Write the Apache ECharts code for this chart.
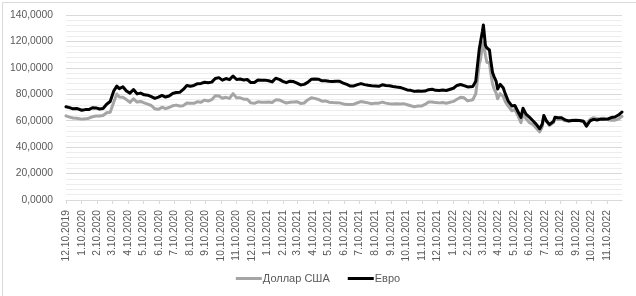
<!DOCTYPE html>
<html>
<head>
<meta charset="utf-8">
<script src="https://cdn.jsdelivr.net/npm/echarts@6/dist/echarts.min.js"></script>
<style>
html,body{margin:0;padding:0;background:#fff;}
#c{width:636px;height:296px;}
</style>
</head>
<body>
<div id="c"></div>
<script>
var seriesNames = ['Доллар США', 'Евро'];
var tickLabels = ['12.10.2019','1.10.2020','2.10.2020','3.10.2020','4.10.2020','5.10.2020','6.10.2020','7.10.2020','8.10.2020','9.10.2020','10.10.2020','11.10.2020','12.10.2020','1.10.2021','2.10.2021','3.10.2021','4.10.2021','5.10.2021','6.10.2021','7.10.2021','8.10.2021','9.10.2021','10.10.2021','11.10.2021','12.10.2021','1.10.2022','2.10.2022','3.10.2022','4.10.2022','5.10.2022','6.10.2022','7.10.2022','8.10.2022','9.10.2022','10.10.2022','11.10.2022'];
var yTicks = [0, 20, 40, 60, 80, 100, 120, 140];

var dates = [
'2019-12-10','2019-12-17','2019-12-24','2019-12-31','2020-01-10','2020-01-17','2020-01-24','2020-01-31',
'2020-02-07','2020-02-14','2020-02-21','2020-02-28','2020-03-06','2020-03-13','2020-03-19','2020-03-24',
'2020-03-31','2020-04-07','2020-04-14','2020-04-21','2020-04-28','2020-05-05','2020-05-12','2020-05-19',
'2020-05-26','2020-06-02','2020-06-09','2020-06-16','2020-06-23','2020-06-30','2020-07-07','2020-07-14',
'2020-07-21','2020-07-28','2020-08-04','2020-08-11','2020-08-18','2020-08-25','2020-09-01','2020-09-08',
'2020-09-15','2020-09-22','2020-09-29','2020-10-06','2020-10-13','2020-10-20','2020-10-27','2020-11-03',
'2020-11-10','2020-11-17','2020-11-24','2020-12-01','2020-12-08','2020-12-15','2020-12-22','2020-12-29',
'2021-01-05','2021-01-12','2021-01-19','2021-01-26','2021-02-02','2021-02-09','2021-02-16','2021-02-23',
'2021-03-02','2021-03-09','2021-03-16','2021-03-23','2021-03-30','2021-04-06','2021-04-13','2021-04-20',
'2021-04-27','2021-05-04','2021-05-11','2021-05-18','2021-05-25','2021-06-01','2021-06-08','2021-06-15',
'2021-06-22','2021-06-29','2021-07-06','2021-07-13','2021-07-20','2021-07-27','2021-08-03','2021-08-10',
'2021-08-17','2021-08-24','2021-08-31','2021-09-07','2021-09-14','2021-09-21','2021-09-28','2021-10-05',
'2021-10-12','2021-10-19','2021-10-26','2021-11-02','2021-11-09','2021-11-16','2021-11-23','2021-11-30',
'2021-12-07','2021-12-14','2021-12-21','2021-12-28','2022-01-11','2022-01-18','2022-01-25','2022-02-01',
'2022-02-08','2022-02-18','2022-02-24','2022-02-27','2022-03-03','2022-03-05','2022-03-09','2022-03-11',
'2022-03-15','2022-03-18','2022-03-23','2022-03-25','2022-03-29','2022-04-01','2022-04-05','2022-04-08',
'2022-04-13','2022-04-19','2022-04-23','2022-04-29','2022-05-06','2022-05-12','2022-05-18','2022-05-24',
'2022-05-28','2022-06-03','2022-06-10','2022-06-17','2022-06-22','2022-06-30','2022-07-05','2022-07-08',
'2022-07-13','2022-07-19','2022-07-22','2022-07-27','2022-07-30','2022-08-05','2022-08-12','2022-08-19',
'2022-08-26','2022-09-02','2022-09-09','2022-09-16','2022-09-24','2022-09-30','2022-10-07','2022-10-14',
'2022-10-21','2022-10-28','2022-11-03','2022-11-11','2022-11-18','2022-11-25','2022-12-02','2022-12-07',
'2022-12-09'];

var usd = [
63.7,62.7,62.1,61.9,61.2,61.4,61.9,63.0,
63.5,63.5,64.0,66.0,66.4,73.9,80.2,78.0,
77.7,76.0,73.9,76.6,74.1,74.6,73.5,72.5,
71.5,69.0,68.6,70.2,69.1,70.0,71.3,71.8,
71.2,71.4,73.4,73.2,73.2,74.4,73.9,75.6,
74.9,75.9,78.9,78.7,77.0,77.7,76.9,80.5,
77.3,77.3,76.3,76.3,73.5,73.2,74.3,73.9,
73.9,74.1,73.8,75.8,75.7,74.4,73.4,73.9,
74.2,74.4,73.1,73.4,75.7,77.3,76.9,76.1,
74.8,75.0,74.0,73.7,73.6,73.5,72.7,72.3,
72.3,72.5,73.6,74.5,74.0,73.5,72.9,73.3,
73.3,74.1,73.3,72.9,72.7,72.8,72.7,72.9,
72.1,71.3,70.6,71.2,71.1,72.3,74.1,74.2,
73.7,73.5,73.8,73.2,74.6,76.2,77.7,77.3,
75.0,75.8,80.4,90.0,103.5,105.8,116.3,119.5,
109.5,104.1,104.0,97.3,88.0,84.1,81.0,76.6,
80.5,78.5,74.5,71.0,67.5,68.6,63.9,58.5,
65.4,61.5,58.5,57.0,54.8,51.5,55.5,62.9,
59.6,56.3,56.9,58.6,61.3,61.0,61.0,59.9,
59.9,60.4,60.2,60.2,59.6,57.4,61.0,62.3,
61.5,61.6,61.9,60.8,60.3,60.4,61.2,62.9,
63.3];

var eur = [
70.6,69.9,69.0,69.3,67.9,68.4,68.4,69.8,
69.7,68.9,69.3,72.5,74.5,82.5,86.2,84.3,
85.7,82.5,80.9,83.6,80.3,80.9,79.6,79.3,
78.2,76.9,77.8,79.1,77.9,78.7,80.6,81.3,
81.5,83.7,86.7,86.1,86.7,88.0,88.2,89.1,
88.7,89.2,92.0,92.6,90.7,91.9,91.1,93.8,
91.2,91.6,90.8,91.2,88.9,88.9,90.8,90.7,
90.7,90.2,89.4,92.1,91.3,89.8,88.8,89.9,
89.6,88.4,87.1,87.5,89.0,91.3,91.6,91.4,
90.2,90.3,89.9,89.6,89.9,89.8,88.5,87.5,
86.2,86.3,87.3,88.1,87.3,86.8,86.4,86.2,
86.0,87.2,86.6,86.5,85.9,85.5,85.2,84.3,
83.3,83.0,82.2,82.5,82.3,82.4,83.5,83.8,
83.0,82.9,83.2,82.9,84.6,86.7,87.4,86.6,
85.6,85.8,89.9,100.5,114.5,116.0,127.5,132.5,
117.0,115.0,113.5,107.0,96.5,93.4,90.0,84.0,
87.5,85.0,80.5,74.8,71.2,71.5,67.0,62.5,
69.4,65.0,62.5,59.8,57.8,53.9,57.5,64.0,
60.0,57.2,57.8,59.4,62.7,62.3,62.2,60.6,
59.8,60.1,60.3,60.2,59.6,55.9,59.8,61.0,
60.5,61.2,61.2,61.3,62.4,62.8,64.3,65.9,
66.6];

var DAY = 86400000;
var T0 = Date.UTC(2019, 11, 10);
function isoDay(s) {
  var p = s.split('-');
  return (Date.UTC(+p[0], +p[1] - 1, +p[2]) - T0) / DAY;
}
function labelDay(s) {
  var p = s.split('.');
  return (Date.UTC(+p[2], +p[0] - 1, +p[1]) - T0) / DAY;
}
var tickDays = tickLabels.map(labelDay);
var xs = dates.map(isoDay);
var usdData = xs.map(function (x, i) { return [x, usd[i]]; });
var eurData = xs.map(function (x, i) { return [x, eur[i]]; });

var FONT = 'Liberation Sans';
var chart = echarts.init(document.getElementById('c'), null, {renderer: 'canvas'});
chart.setOption({
  animation: false,
  backgroundColor: '#ffffff',
  textStyle: {fontFamily: FONT},
  graphic: [{
    type: 'rect', left: 0, top: 0, silent: true, z: 100,
    shape: {x: 0.5, y: 0.5, width: 635, height: 295},
    style: {fill: 'none', stroke: '#d9d9d9', lineWidth: 1}
  }],
  grid: {left: 66, right: 14, top: 15, bottom: 96, containLabel: false},
  legend: {
    bottom: 7, left: 'center',
    itemWidth: 26, itemHeight: 3, itemGap: 18,
    icon: 'rect',
    textStyle: {color: '#595959', fontSize: 11, fontFamily: FONT, padding: [0, 0, 0, -4]},
    data: seriesNames
  },
  xAxis: {
    type: 'value',
    min: 0,
    max: xs[xs.length - 1],
    splitLine: {show: false},
    axisLine: {show: true, lineStyle: {color: '#d9d9d9', width: 1}},
    axisTick: {show: true, customValues: tickDays, length: 4, lineStyle: {color: '#d9d9d9'}},
    axisLabel: {
      customValues: tickDays,
      rotate: 90,
      margin: 10,
      color: '#595959',
      fontSize: 10.3,
      fontFamily: FONT,
      formatter: function (v) {
        var i = tickDays.indexOf(v);
        return i >= 0 ? tickLabels[i] : '';
      }
    }
  },
  yAxis: {
    type: 'value',
    min: yTicks[0], max: yTicks[yTicks.length - 1], interval: 20,
    axisLine: {show: false},
    axisTick: {show: false},
    minorTick: {show: false, splitNumber: 5},
    minorSplitLine: {show: true, lineStyle: {color: '#ededed', width: 1}},
    splitLine: {show: true, lineStyle: {color: '#d9d9d9', width: 1}},
    axisLabel: {
      color: '#595959', fontSize: 10.3, fontFamily: FONT, margin: 13,
      formatter: function (v) { return v.toFixed(4).replace('.', ','); }
    }
  },
  series: [
    {
      name: seriesNames[0], type: 'line', data: usdData, showSymbol: false,
      color: '#a5a5a5',
      lineStyle: {color: '#a5a5a5', width: 3, cap: 'round', join: 'round'}
    },
    {
      name: seriesNames[1], type: 'line', data: eurData, showSymbol: false,
      color: '#000000',
      lineStyle: {color: '#000000', width: 3, cap: 'round', join: 'round'}
    }
  ]
});
</script>
</body>
</html>
